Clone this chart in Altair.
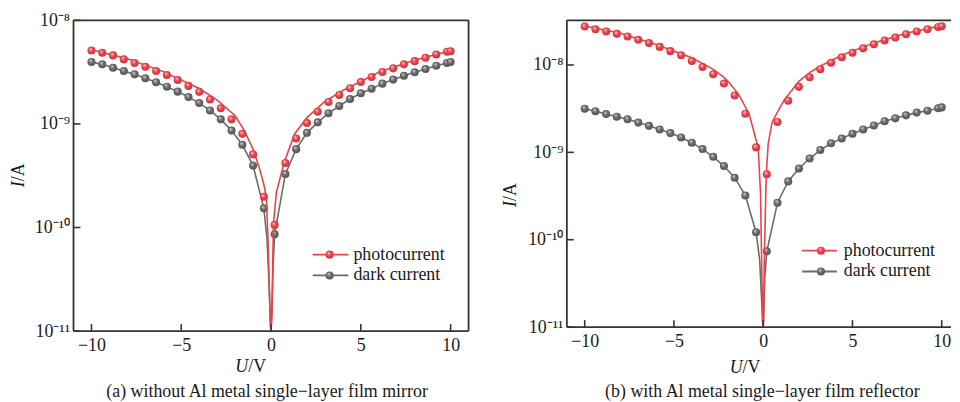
import altair as alt
import pandas as pd

FONT = "Liberation Serif"
RED = "#e8434b"
GRAY = "#6b6b6b"
FRAME = "#333333"

# ---------------- data ----------------
U_meas = [-10.0, -9.4, -8.8, -8.2, -7.6, -7.0, -6.4, -5.8, -5.2, -4.6, -4.0, -3.4,
          -2.8, -2.2, -1.6, -1.0, -0.4, 0.2, 0.8, 1.4, 2.0, 2.6, 3.2, 3.8, 4.4, 5.0,
          5.6, 6.2, 6.8, 7.4, 8.0, 8.6, 9.2, 9.8, 10.0]

# panel (a)
a_photo = [5.12e-9, 4.86e-9, 4.59e-9, 4.20e-9, 3.87e-9, 3.57e-9, 3.24e-9, 2.97e-9, 2.66e-9,
           2.33e-9, 2.04e-9, 1.72e-9, 1.42e-9, 1.107e-9, 8.02e-10, 5.08e-10, 1.98e-10,
           1.06e-10, 4.19e-10, 7.23e-10, 1.02e-9, 1.31e-9, 1.63e-9, 1.90e-9, 2.21e-9,
           2.54e-9, 2.84e-9, 3.17e-9, 3.44e-9, 3.76e-9, 4.04e-9, 4.35e-9, 4.69e-9,
           4.97e-9, 5.04e-9]
a_dark = [3.96e-9, 3.76e-9, 3.49e-9, 3.24e-9, 3.01e-9, 2.76e-9, 2.53e-9, 2.29e-9, 2.05e-9,
          1.82e-9, 1.59e-9, 1.35e-9, 1.107e-9, 8.62e-10, 6.29e-10, 3.96e-10, 1.53e-10,
          8.62e-11, 3.29e-10, 5.71e-10, 8.20e-10, 1.036e-9, 1.27e-9, 1.49e-9, 1.74e-9,
          1.98e-9, 2.19e-9, 2.45e-9, 2.68e-9, 2.92e-9, 3.15e-9, 3.39e-9, 3.65e-9,
          3.87e-9, 3.96e-9]
a_fit_U = [-10, -8, -6, -4, -3, -2, -1.5, -1, -0.6, -0.4, -0.26, -0.17, -0.11, -0.05, 0,
           0.05, 0.09, 0.13, 0.3, 0.72, 1.31, 2, 3, 4, 6, 8, 10]
a_fit_I = [5.2e-9, 4.25e-9, 3.2e-9, 2.2e-9, 1.7e-9, 1.2e-9, 8.7e-10, 5.7e-10, 3.5e-10,
           2.6e-10, 1.96e-10, 7.6e-11, 3.2e-11, 1.3e-11, 1e-11, 1.4e-11, 4e-11, 1.07e-10,
           2.2e-10, 4.2e-10, 8.0e-10, 1.15e-9, 1.65e-9, 2.1e-9, 3.15e-9, 4.15e-9, 5.1e-9]
a_dip_U = [-0.22, -0.1, -0.03, 0.0, 0.06, 0.12]
a_dip_I = [7.6e-11, 2.5e-11, 1.1e-11, 1e-11, 2.0e-11, 4.5e-11]

# panel (b)
b_photo = [2.75e-8, 2.56e-8, 2.42e-8, 2.27e-8, 2.12e-8, 1.94e-8, 1.78e-8, 1.61e-8, 1.44e-8,
           1.29e-8, 1.11e-8, 9.49e-9, 7.84e-9, 6.13e-9, 4.48e-9, 2.77e-9, 1.14e-9,
           5.62e-10, 2.23e-9, 3.90e-9, 5.62e-9, 7.25e-9, 8.93e-9, 1.062e-8, 1.223e-8,
           1.38e-8, 1.55e-8, 1.73e-8, 1.91e-8, 2.06e-8, 2.25e-8, 2.42e-8, 2.56e-8,
           2.72e-8, 2.77e-8]
b_dark = [3.16e-9, 2.95e-9, 2.75e-9, 2.56e-9, 2.39e-9, 2.19e-9, 2.01e-9, 1.83e-9, 1.66e-9,
          1.48e-9, 1.29e-9, 1.09e-9, 8.89e-10, 6.97e-10, 5.13e-10, 3.20e-10, 1.22e-10,
          7.36e-11, 2.65e-10, 4.65e-10, 6.53e-10, 8.50e-10, 1.062e-9, 1.27e-9, 1.44e-9,
          1.63e-9, 1.83e-9, 2.03e-9, 2.27e-9, 2.45e-9, 2.65e-9, 2.85e-9, 3.00e-9,
          3.19e-9, 3.27e-9]
b_fit_U = [-10, -8, -6, -4, -2.8, -2.2, -1.91, -1.35, -0.79, -0.28, -0.15, -0.09, -0.03, 0,
           0.02, 0.06, 0.17, 0.28, 0.5, 1.15, 1.98, 2.6, 3.2, 4.4, 6.2, 8, 10]
b_fit_I = [2.8e-8, 2.31e-8, 1.72e-8, 1.21e-8, 8.9e-9, 7.2e-9, 6.3e-9, 4.52e-9, 2.75e-9,
           1.13e-9, 3.39e-10, 5.9e-11, 1.2e-11, 1e-11, 1.2e-11, 5.9e-11, 5.6e-10, 1.26e-9,
           2.23e-9, 3.9e-9, 6.45e-9, 8.18e-9, 9.74e-9, 1.29e-8, 1.79e-8, 2.31e-8, 2.82e-8]
b_dip_U = [-0.2, -0.11, -0.03, 0.0, 0.04, 0.09]
b_dip_I = [5.9e-11, 2.5e-11, 1.1e-11, 1e-11, 1.6e-11, 3.8e-11]

X_TICKS = [-10, -5, 0, 5, 10]
Y_TICKS = [1e-11, 1e-10, 1e-9, 1e-8]
SERIES = ["photocurrent", "dark current"]

# ---------------- helpers ----------------
K = "round(log(datum.value)/LN10)"
LABEL_EXPR = (f"{K} == -8 ? '10\u207b\u2078' : {K} == -9 ? '10\u207b\u2079' : "
              f"{K} == -10 ? '10\u207b\u00b9\u2070' : '10\u207b\u00b9\u00b9'")


def sphere(light, base, dark):
    return alt.RadialGradient(
        gradient="radial",
        stops=[alt.GradientStop(color=light, offset=0.0),
               alt.GradientStop(color=base, offset=0.45),
               alt.GradientStop(color=dark, offset=1.0)],
        x1=0.36, y1=0.3, r1=0.0, x2=0.5, y2=0.5, r2=0.6)


RED_BALL = sphere("#fbd3d5", RED, "#cf2f38")
GRAY_BALL = sphere("#d5d5d5", GRAY, "#4e4e4e")
ONE = alt.Data(values=[{"k": 1}])
BALL = 66


def txt(text, x, y, size=18, align="center", italic=False, angle=0, baseline="middle"):
    kw = dict(text=text, font=FONT, fontSize=size, align=align, baseline=baseline,
              color="#1a1a1a")
    if italic:
        kw["fontStyle"] = "italic"
    if angle:
        kw["angle"] = angle
    return alt.Chart(ONE).mark_text(**kw).encode(x=alt.value(x), y=alt.value(y))


def hrule(x0, x1, y, color=FRAME, w=1.8):
    return alt.Chart(ONE).mark_rule(color=color, strokeWidth=w).encode(
        x=alt.value(x0), x2=alt.value(x1), y=alt.value(y))


def vrule(x, y0, y1, color=FRAME, w=1.8):
    return alt.Chart(ONE).mark_rule(color=color, strokeWidth=w).encode(
        x=alt.value(x), y=alt.value(y0), y2=alt.value(y1))


def panel(photo, dark, fitU, fitI, dipU, dipI, xmax, ymax, W, H, caption,
          leg, ytp, xtp, capp, right_frame=True, anchor=False):
    xs = alt.Scale(domain=[-11, xmax], nice=False, zero=False)
    ys = alt.Scale(type="log", domain=[1e-11, ymax], nice=False)
    xax = alt.Axis(values=X_TICKS, domain=False, ticks=False, tickSize=0, grid=False,
                   title=None, labelFont=FONT, labelFontSize=18, labelColor="#1a1a1a",
                   labelPadding=6, format="d", labelFlush=False, labelOverlap=False)
    yax = alt.Axis(values=Y_TICKS, domain=False, ticks=False, tickSize=0, grid=False,
                   title=None, labelFont=FONT, labelFontSize=18, labelColor="#1a1a1a",
                   labelPadding=4, labelExpr=LABEL_EXPR, labelFlush=False,
                   labelOverlap=False)
    X = lambda f="U": alt.X(f"{f}:Q", scale=xs, axis=xax)
    Y = lambda f="I": alt.Y(f"{f}:Q", scale=ys, axis=yax)

    df_pts = pd.DataFrame({"U": U_meas, "photo": photo, "dark": dark})
    dark_line = pd.DataFrame({"U": U_meas + dipU, "I": dark + dipI}).sort_values("U")
    fit_line = pd.DataFrame({"U": fitU, "I": fitI})

    layers = [
        alt.Chart(dark_line).mark_line(color=GRAY, strokeWidth=1.6, clip=True)
        .encode(x=X(), y=Y()),
        alt.Chart(df_pts).mark_circle(size=BALL, fill=GRAY_BALL, opacity=1, clip=True)
        .encode(x=X(), y=Y("dark")),
        alt.Chart(fit_line).mark_line(color=RED, strokeWidth=1.6, clip=True)
        .encode(x=X(), y=Y()),
        alt.Chart(df_pts).mark_circle(size=BALL, fill=RED_BALL, opacity=1, clip=True)
        .encode(x=X(), y=Y("photo")),
        # inward ticks
        alt.Chart(pd.DataFrame({"I": Y_TICKS})).mark_rule(color=FRAME, strokeWidth=1.6)
        .encode(y=Y(), x=alt.value(0), x2=alt.value(7)),
        alt.Chart(pd.DataFrame({"U": X_TICKS})).mark_rule(color=FRAME, strokeWidth=1.6)
        .encode(x=X(), y=alt.value(H), y2=alt.value(H - 7)),
        # frame
        hrule(0, W, 0), hrule(0, W, H), vrule(0, 0, H),
    ]
    if right_frame:
        layers.append(vrule(W, 0, H))
    # legend
    lx0, lx1, mx, tx, y1, y2 = leg
    for col, ball, label, yy in [(RED, RED_BALL, SERIES[0], y1), (GRAY, GRAY_BALL, SERIES[1], y2)]:
        layers.append(hrule(lx0, lx1, yy, color=col, w=1.8))
        layers.append(alt.Chart(ONE).mark_circle(size=BALL, fill=ball, opacity=1)
                      .encode(x=alt.value(mx), y=alt.value(yy)))
        layers.append(txt(label, tx, yy, align="left"))
    # axis titles
    layers.append(txt("I", ytp[0], ytp[1], align="right", italic=True, angle=270))
    layers.append(txt("/A", ytp[0], ytp[1], align="left", angle=270))
    layers.append(txt("U", xtp[0], xtp[1], align="right", italic=True))
    layers.append(txt("/V", xtp[0], xtp[1], align="left"))
    layers.append(txt(caption, capp[0], capp[1]))
    if anchor:
        layers.append(alt.Chart(ONE).mark_rule(strokeOpacity=0, strokeWidth=0.1)
                      .encode(x=alt.value(-66), x2=alt.value(-66),
                              y=alt.value(-11), y2=alt.value(-10)))
    return alt.layer(*layers).properties(width=W, height=H)


left = panel(a_photo, a_dark, a_fit_U, a_fit_I, a_dip_U, a_dip_I, 11, 1e-8, 398, 313,
             "(a) without Al metal single\u2212layer film mirror",
             (241, 277, 258, 282, 236, 257), (-55, 162), (176, 349), (195, 374),
             anchor=True)
right = panel(b_photo, b_dark, b_fit_U, b_fit_I, b_dip_U, b_dip_I, 10.52, 3.24e-8, 387, 309,
              "(b) with Al metal single\u2212layer film reflector",
              (237, 272, 256, 279, 232, 253), (-56, 182), (177, 350), (197, 374),
              right_frame=False)

chart = (alt.hconcat(left, right, spacing=99, bounds="flush")
         .properties(padding=0)
         .configure_view(stroke=None)
         .configure_concat(spacing=99))

chart.save("out.html", embed_options={"renderer": "svg", "actions": False})
